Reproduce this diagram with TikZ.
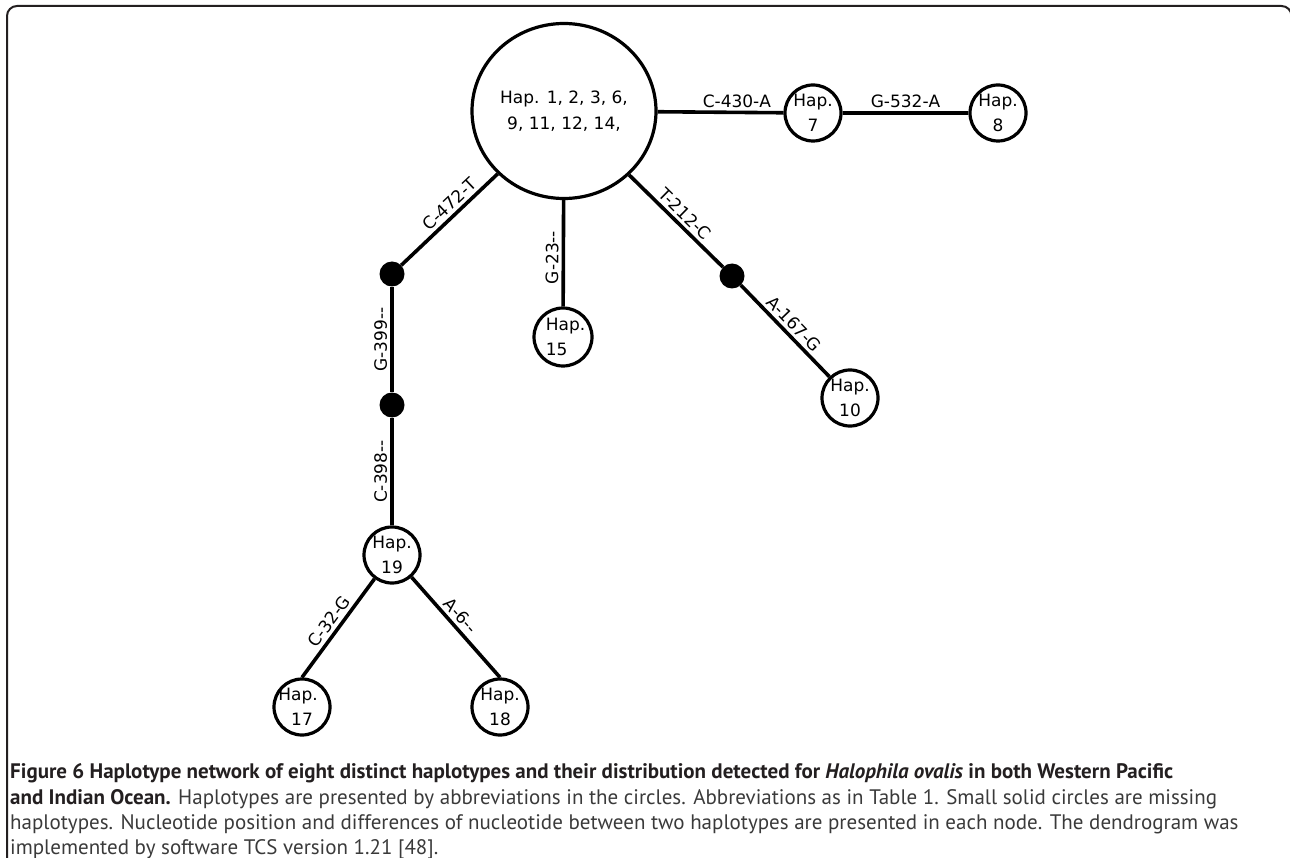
\documentclass[tikz,border=0pt]{standalone}
\usepackage{fontspec}
\setmainfont{DejaVu Sans}
\newfontfamily\capfont{PT Sans}
\usetikzlibrary{shapes.geometric}
\definecolor{capdark}{HTML}{231F20}
\definecolor{capgray}{HTML}{3A3A3A}
\newcommand\hh{-\kern0pt}
\tikzset{
  hap/.style={circle, draw, line width=3.2pt, minimum size=56pt, inner sep=0pt,
    font=\fontsize{17}{25}\selectfont, align=center},
  miss/.style={circle, fill, minimum size=25pt, inner sep=0pt},
  link/.style={line width=3.6pt},
  lab/.style={font=\fontsize{17}{20}\selectfont, inner sep=3pt},
  capline/.style={anchor=base west, inner sep=0pt, font=\capfont\fontsize{21}{26}\selectfont, text=capgray}
}
\begin{document}
\begin{tikzpicture}[x=1pt,y=1pt]
\useasboundingbox (0,0) rectangle (1290,-858);
% frame
\draw[line width=2pt, capdark, rounded corners=10pt] (7,-870) -- (7,-6) -- (1291.5,-6) -- (1291.5,-870);
% haplotype nodes
\node[ellipse, draw, line width=3.2pt, minimum width=184pt, minimum height=175pt, inner sep=0pt,
  align=center, font=\fontsize{17}{26}\selectfont] (big) at (564,-111) {Hap. 1, 2, 3, 6,\\9, 11, 12, 14,};
\node[hap] (h7) at (813,-113) {Hap.\\7};
\node[hap] (h8) at (998,-113) {Hap.\\8};
\node[hap, align=left] (h15) at (563,-337) {\hspace*{5pt}Hap.\\\hspace*{5pt}15};
\node[hap] (h10) at (850,-398) {Hap.\\10};
\node[hap] (h19) at (392,-555) {Hap.\\19};
\node[hap] (h17) at (302,-707) {\hspace*{-8pt}Hap.\\17};
\node[hap] (h18) at (500,-707) {Hap.\\18};
\node[miss] (d1) at (392,-274) {};
\node[miss] (d2) at (392,-405) {};
\node[miss] (d3) at (732,-276) {};
% connectors
\draw[link] (big) -- node[lab, above, pos=0.63] {C\hh430\hh A} (h7);
\draw[link] (h7) -- node[lab, above] {G\hh532\hh A} (h8);
\draw[link] (big) -- node[lab, sloped, above, pos=0.42] {C\hh472\hh T} (d1);
\draw[link] (d2) -- node[lab, sloped, above] {G\hh399\hh\hh} (d1);
\draw[link] (h19) -- node[lab, sloped, above] {C\hh398\hh\hh} (d2);
\draw[link] (big) -- node[lab, sloped, above, pos=0.54] {G\hh23\hh\hh} (h15);
\draw[link] (big) -- node[lab, sloped, above, pos=0.51] {T\hh212\hh C} (d3);
\draw[link] (d3) -- node[lab, sloped, above, pos=0.51] {A\hh167\hh G} (h10);
\draw[link] (h19) -- node[lab, sloped, above] {C\hh32\hh G} (h17.north);
\draw[link] (h19) -- node[lab, sloped, above, pos=0.46] {A\hh6\hh\hh} (h18.north);
% caption
\node[capline, text=capdark] (c1) at (10,-778.5) {\bfseries Figure 6 Haplotype network of eight distinct haplotypes and their distribution detected for \textit{Halophila ovalis} in both Western Pacific};
\node[capline] (c2) at (10,-804) {{\bfseries\color{capdark}and Indian Ocean.} Haplotypes are presented by abbreviations in the circles. Abbreviations as in Table 1. Small solid circles are missing};
\node[capline] (c3) at (10,-829.5) {haplotypes. Nucleotide position and differences of nucleotide between two haplotypes are presented in each node. The dendrogram was};
\node[capline] (c4) at (10,-854.5) {implemented by software TCS version 1.21 [48].};
\end{tikzpicture}
\end{document}
